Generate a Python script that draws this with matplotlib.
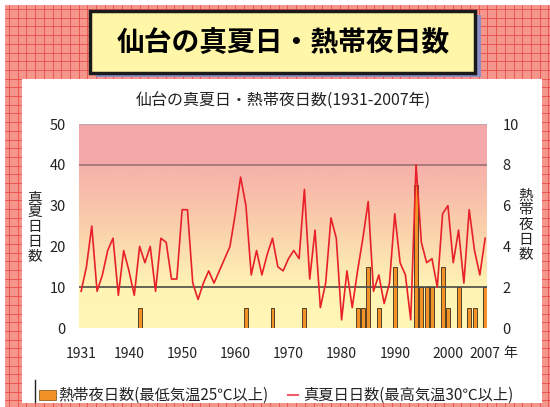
import numpy as np
import matplotlib
matplotlib.use('Agg')
import matplotlib.pyplot as plt
from matplotlib.patches import Rectangle

plt.rcParams['font.family'] = ['Noto Sans CJK JP', 'DejaVu Sans']

# data
years = list(range(1931, 2008))
manatsubi = [9, 15, 25, 9, 13, 19, 22, 8, 19, 14,
             8, 20, 16, 20, 9, 22, 21, 12, 12, 29,
             29, 11, 7, 11, 14, 11, 14, 17, 20, 28,
             37, 30, 13, 19, 13, 18, 22, 15, 14, 17,
             19, 17, 34, 12, 24, 5, 11, 27, 22, 2,
             14, 5, 14, 22, 31, 9, 13, 6, 11, 28,
             16, 13, 2, 40, 21, 16, 17, 10, 28, 30,
             16, 24, 11, 29, 19, 13, 22]
nettaiya_years = [1942, 1962, 1967, 1973, 1983, 1984, 1985, 1987, 1990, 1994,
                  1995, 1996, 1997, 1999, 2000, 2002, 2004, 2005, 2007]
nettaiya_days = [1, 1, 1, 1, 1, 1, 3, 1, 3, 7,
                 2, 2, 2, 3, 1, 2, 1, 1, 2]
year_ticks = [1931, 1940, 1950, 1960, 1970, 1980, 1990, 2000, 2007]
left_ticks = [0, 10, 20, 30, 40, 50]
right_ticks = [0, 2, 4, 6, 8, 10]

title = '仙台の真夏日・熱帯夜日数'
subtitle = '仙台の真夏日・熱帯夜日数(1931-2007年)'
left_label = '真夏日日数'
right_label = '熱帯夜日数'
legend_bar = '熱帯夜日数(最低気温25℃以上)'
legend_line = '真夏日日数(最高気温30℃以上)'

fig = plt.figure(figsize=(5.5, 4.07), dpi=100)

# decoration layer in pixel units
bg = fig.add_axes([0, 0, 1, 1], zorder=-1)
bg.set_xlim(0, 550)
bg.set_ylim(407, 0)
bg.axis('off')
bg.add_patch(Rectangle((5, 5), 545, 402, facecolor='#F5968C', edgecolor='none', zorder=0))
bg.vlines(np.arange(9, 550, 8.7), 5, 407, color='#E84A46', lw=0.6, zorder=0.5)
bg.hlines(np.arange(9, 407, 8.7), 5, 550, color='#E84A46', lw=0.6, zorder=0.5)
bg.add_patch(Rectangle((22, 79), 520, 324, facecolor='white', edgecolor='none', zorder=1))

# title box with shadow
bg.add_patch(Rectangle((96, 15), 385, 62, facecolor='#8F8FC8', edgecolor='none', zorder=2))
bg.add_patch(Rectangle((89.5, 10.5), 385, 62, facecolor='#FFF6A8',
                       edgecolor='#1a1a1a', lw=2.5, zorder=3))
bg.text(283, 43, title, ha='center', va='center', fontsize=20, fontweight='bold', zorder=4)
bg.text(283, 101, subtitle, ha='center', va='center', fontsize=11.5, color='#222222', zorder=4)

bg.text(35, 227, '\n'.join(left_label), ha='center', va='center',
        fontsize=10.5, linespacing=1.05, color='#222222', zorder=4)
bg.text(526, 225, '\n'.join(right_label), ha='center', va='center',
        fontsize=10.5, linespacing=1.05, color='#222222', zorder=4)
bg.text(503, 353, '年', ha='left', va='center', fontsize=10, color='#222222', zorder=4)

# legend
bg.plot([35, 35], [380, 402], color='#222222', lw=1, zorder=4)
bg.add_patch(Rectangle((39, 390), 17, 10, facecolor='#F29227',
                       edgecolor='#7a4a10', lw=0.5, zorder=4))
bg.text(58, 395, legend_bar, ha='left', va='center', fontsize=11, color='#222222', zorder=4)
bg.plot([288, 298], [395, 395], color='#F0606A', lw=1.5, zorder=4)
bg.text(303, 395, legend_line, ha='left', va='center', fontsize=11, color='#222222', zorder=4)

# plot area
pos = [79 / 550, 79 / 407, 408 / 550, 204 / 407]
ax2 = fig.add_axes(pos)
ax1 = ax2.twinx()
ax1.set_position(pos)
ax1.yaxis.set_label_position('left')
ax1.yaxis.tick_left()
ax2.yaxis.set_label_position('right')
ax2.yaxis.tick_right()

# background gradient, pink at the top to pale yellow at the bottom
stops = [0.0, 0.2, 0.3, 0.5, 0.7, 0.8, 0.801, 1.0]
cols = np.array([(255, 246, 182), (255, 244, 180), (253, 232, 178), (250, 207, 172),
                 (248, 186, 170), (246, 178, 170), (244, 170, 170), (244, 168, 170)]) / 255
h = np.linspace(0, 1, 400)
grad = np.stack([np.interp(h, stops, cols[:, k]) for k in range(3)], axis=-1)
grad = np.repeat(grad[:, None, :], 2, axis=1)
ax2.imshow(grad, origin='lower', extent=(0, 1, 0, 1), transform=ax2.transAxes,
           aspect='auto', zorder=0)

ax2.bar(nettaiya_years, nettaiya_days, width=0.75, color='#F29227',
        edgecolor='#3A2A1A', lw=0.6, zorder=2)
ax2.set_ylim(0, 10)
ax2.set_yticks(right_ticks)

ax1.set_zorder(ax2.get_zorder() + 1)
ax1.patch.set_visible(False)
ax1.axhline(40, color='#9A7272', lw=1.2, zorder=1)
ax1.axhline(10, color='#4A4A4A', lw=1.2, zorder=1)
ax1.axhline(50, color='#A8A8A8', lw=1.2, zorder=1)
ax1.plot(years, manatsubi, color='#E8202A', lw=1.2, zorder=3)
ax1.set_ylim(0, 50)
ax1.set_yticks(left_ticks)

ax2.set_xlim(1930.6, 2007.35)
ax2.set_xticks(year_ticks)
for a in (ax1, ax2):
    for s in a.spines.values():
        s.set_visible(False)
ax2.tick_params(axis='x', length=0, pad=14, labelsize=10, labelcolor='#222222')
ax1.tick_params(axis='y', length=0, pad=9.5, labelsize=10.5, labelcolor='#222222')
ax2.tick_params(axis='y', length=0, pad=11, labelsize=10.5, labelcolor='#222222')

fig.savefig('out.png', dpi=100)
